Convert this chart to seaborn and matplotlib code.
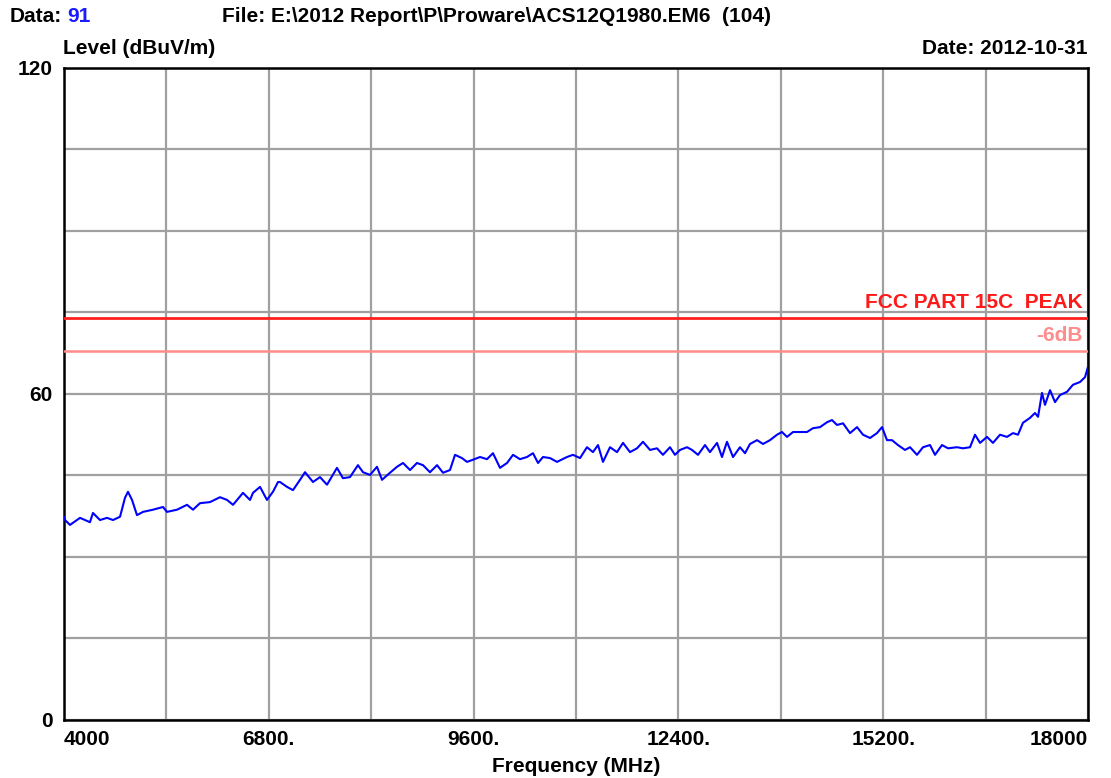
import numpy as np
import pandas as pd
import matplotlib
matplotlib.use("Agg")
import matplotlib.pyplot as plt
import seaborn as sns

# trace (MHz, dBuV/m), in five stretches
freq_a = [4000, 4014, 4082, 4219, 4355, 4396, 4492, 4588, 4670, 4766,
          4834, 4875, 4930, 4998, 5080, 5217, 5354, 5408, 5545, 5682,
          5764, 5859, 5996, 6133, 6229, 6311, 6447, 6543, 6584, 6680,
          6775, 6857, 6926]
level_a = [37.4, 36.8, 35.9, 37.2, 36.4, 38.1, 36.8, 37.2, 36.8, 37.4,
           40.9, 42.0, 40.5, 37.7, 38.3, 38.7, 39.2, 38.3, 38.7, 39.6,
           38.7, 39.9, 40.1, 41.0, 40.5, 39.6, 41.8, 40.5, 41.8, 42.9,
           40.5, 42.0, 43.8]

freq_b = [6953, 7049, 7131, 7227, 7295, 7404, 7500, 7596, 7732, 7814,
          7910, 8019, 8088, 8184, 8279, 8348, 8457, 8553, 8635, 8731,
          8826, 8908, 9004, 9100, 9182, 9277, 9346, 9441, 9510, 9592,
          9688, 9783]
level_b = [43.8, 42.9, 42.3, 44.2, 45.6, 43.8, 44.7, 43.3, 46.4, 44.5,
           44.7, 46.9, 45.6, 45.1, 46.6, 44.2, 45.5, 46.6, 47.3, 46.0,
           47.3, 46.9, 45.6, 46.9, 45.5, 46.0, 48.8, 48.2, 47.5, 47.9,
           48.4, 48.0]

freq_c = [9865, 9961, 10057, 10139, 10234, 10330, 10412, 10481, 10549, 10645,
          10740, 10877, 10959, 11055, 11150, 11232, 11301, 11369, 11465, 11561,
          11643, 11738, 11834, 11916, 12012, 12107, 12189, 12285, 12353, 12422,
          12518]
level_c = [49.1, 46.4, 47.3, 48.8, 48.0, 48.4, 49.1, 47.3, 48.4, 48.2,
           47.5, 48.4, 48.8, 48.2, 50.2, 49.3, 50.6, 47.5, 50.2, 49.3,
           51.0, 49.3, 50.0, 51.2, 49.7, 50.0, 48.8, 50.2, 48.8, 49.7,
           50.2]

freq_d = [12586, 12668, 12764, 12832, 12928, 12996, 13064, 13147, 13242, 13311,
          13379, 13475, 13557, 13652, 13748, 13816, 13885, 13967, 14063, 14158,
          14240, 14336, 14432, 14500, 14568, 14651, 14746, 14842, 14924, 15020,
          15115, 15184, 15252]
level_d = [49.7, 48.8, 50.6, 49.3, 51.0, 48.4, 51.2, 48.4, 50.2, 49.1,
           50.8, 51.5, 50.8, 51.5, 52.5, 53.0, 52.1, 53.0, 53.0, 53.0,
           53.7, 53.9, 54.8, 55.2, 54.3, 54.6, 52.8, 53.9, 52.5, 51.9,
           52.8, 53.9, 51.5]

freq_e = [15320, 15402, 15498, 15567, 15662, 15744, 15840, 15908, 16004, 16086,
          16209, 16291, 16387, 16455, 16524, 16619, 16701, 16797, 16892, 16975,
          17043, 17111, 17207, 17275, 17317, 17371, 17412, 17481, 17549, 17617,
          17713, 17795, 17891, 17959, 18000]
level_e = [51.5, 50.6, 49.7, 50.2, 48.8, 50.2, 50.6, 48.8, 50.6, 50.0,
           50.2, 50.0, 50.2, 52.5, 51.0, 52.1, 51.0, 52.5, 52.1, 52.8,
           52.5, 54.7, 55.6, 56.5, 55.8, 60.2, 58.0, 60.7, 58.5, 59.8,
           60.4, 61.7, 62.2, 63.1, 65.0]

limit_peak = 74
limit_margin = 68

x_ticks = [4000, 5400, 6800, 8200, 9600, 11000, 12400, 13800, 15200, 16600, 18000]
x_labels = ["4000", "", "6800.", "", "9600.", "", "12400.", "", "15200.", "", "18000"]
y_ticks = [0, 15, 30, 45, 60, 75, 90, 105, 120]
y_labels = ["0", "", "", "", "60", "", "", "", "120"]

df = pd.DataFrame({
    "Frequency": freq_a + freq_b + freq_c + freq_d + freq_e,
    "Level": level_a + level_b + level_c + level_d + level_e,
})

sns.set_theme(style="white")
plt.rcParams["font.family"] = ["Liberation Sans", "DejaVu Sans"]
plt.rcParams["font.weight"] = "bold"
plt.rcParams["text.color"] = "black"
plt.rcParams["axes.labelcolor"] = "black"
plt.rcParams["xtick.color"] = "black"
plt.rcParams["ytick.color"] = "black"
fs = 15

fig = plt.figure(figsize=(11.11, 7.78), dpi=100)
ax = fig.add_axes([0.0576, 0.0746, 0.9217, 0.838])

ax.axhline(limit_peak, color="#ff2020", lw=2, zorder=3)
ax.axhline(limit_margin, color="#ff8c8c", lw=1.8, zorder=3)

sns.lineplot(data=df, x="Frequency", y="Level", color="#0000ff", linewidth=1.5,
             ax=ax, zorder=4)

ax.set_xlim(4000, 18000)
ax.set_ylim(0, 120)
ax.set_xticks(x_ticks)
ax.set_xticklabels(x_labels, fontsize=fs, fontweight="bold")
ax.set_yticks(y_ticks)
ax.set_yticklabels(y_labels, fontsize=fs, fontweight="bold")
xt = ax.get_xticklabels()
xt[0].set_ha("left")
xt[-1].set_ha("right")
ax.tick_params(axis="x", length=0, pad=7)
ax.tick_params(axis="y", length=0, pad=8)
ax.grid(True, color="#a0a0a0", linewidth=1.6)
for s in ax.spines.values():
    s.set_color("black")
    s.set_linewidth(1.8)
ax.set_xlabel("Frequency (MHz)", fontsize=fs, fontweight="bold", labelpad=6)
ax.set_ylabel("")

ax.text(0.995, limit_peak + 1.0, "FCC PART 15C  PEAK", transform=ax.get_yaxis_transform(),
        ha="right", va="bottom", color="#ff1a1a", fontsize=fs, fontweight="bold")
ax.text(0.995, limit_margin + 1.0, "-6dB", transform=ax.get_yaxis_transform(),
        ha="right", va="bottom", color="#ff8c8c", fontsize=fs, fontweight="bold")

fig.text(10 / 1111, 1 - 17 / 778, "Data:", fontsize=fs, fontweight="bold", va="center")
fig.text(67 / 1111, 1 - 17 / 778, "91", fontsize=fs, fontweight="bold", va="center", color="#1a1aff")
fig.text(222 / 1111, 1 - 17 / 778, "File: E:\\2012 Report\\P\\Proware\\ACS12Q1980.EM6  (104)",
         fontsize=fs, fontweight="bold", va="center")
fig.text(63 / 1111, 1 - 48 / 778, "Level (dBuV/m)", fontsize=fs, fontweight="bold", va="center")
fig.text(1088 / 1111, 1 - 48 / 778, "Date: 2012-10-31", fontsize=fs, fontweight="bold",
         va="center", ha="right")

fig.savefig("out.png", dpi=100)
